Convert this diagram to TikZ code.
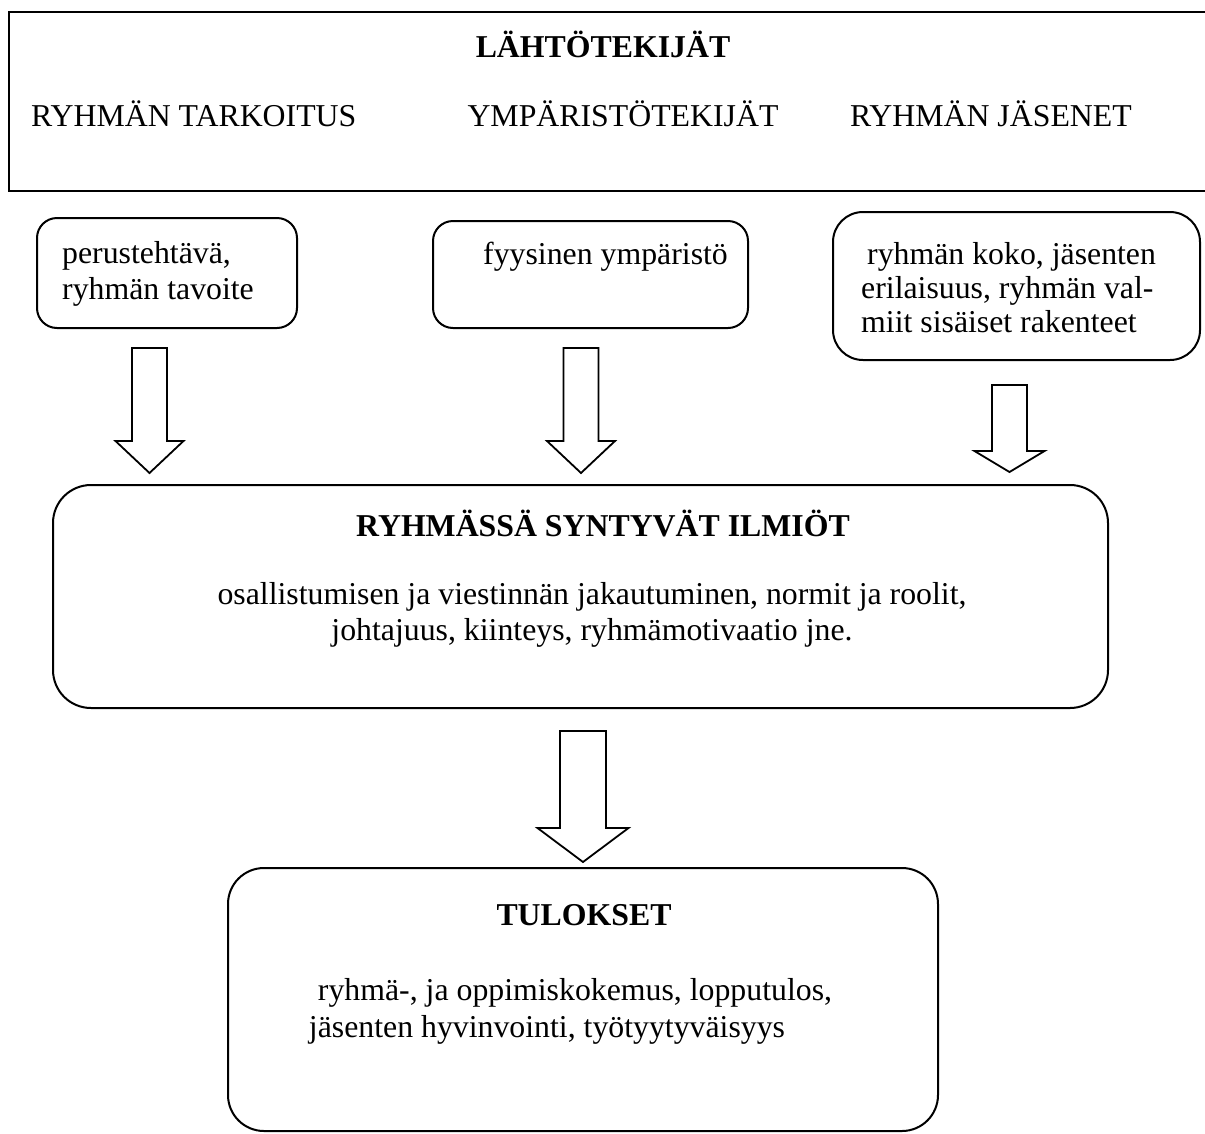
\documentclass[tikz,border=0pt]{standalone}
\usepackage{fontspec}
\setmainfont{Liberation Serif}
\newcommand\blockarr[6]{%
  \draw[blockarrow] (#1-#5,#2) -- (#1+#5,#2) -- (#1+#5,#3) -- (#1+#6,#3) -- (#1,#4) -- (#1-#6,#3) -- (#1-#5,#3) -- cycle;}
\begin{document}
\begin{tikzpicture}[x=1pt,y=-1pt,
  txt/.style={inner sep=0pt, font=\fontsize{31.8pt}{33pt}\selectfont},
  btxt/.style={txt, font=\fontsize{31.8pt}{33pt}\selectfont\bfseries},
  box/.style={draw, line width=2pt, minimum width=#1, inner sep=0pt},
  blockarrow/.style={draw, line width=1.8pt, line join=miter, fill=white}]
\useasboundingbox (0,0) rectangle (1205,1133);
% top open box
\draw[line width=2.4pt] (1210,12) -- (9,12) -- (9,191) -- (1210,191);
\node[btxt, anchor=base] (lt) at (603,57) {LÄHTÖTEKIJÄT};
\node[txt, anchor=base west] (rt) at (31,126) {RYHMÄN TARKOITUS};
\node[txt, anchor=base] (yt) at (623,126) {YMPÄRISTÖTEKIJÄT};
\node[txt, anchor=base east] (rj) at (1132,126) {RYHMÄN JÄSENET};
% small boxes
\node[box=260pt, minimum height=110pt, rounded corners=20pt] (b1) at (167,273) {};
\node[box=315pt, minimum height=107pt, rounded corners=20pt] (b2) at (590.5,274.5) {};
\node[box=367pt, minimum height=148pt, rounded corners=30pt] (b3) at (1016.5,286) {};
\node[txt, anchor=base west] (t1a) at (62,263) {perustehtävä,};
\node[txt, anchor=base west] (t1b) at (62,299) {ryhmän tavoite};
\node[txt, anchor=base west] (t2) at (483,264) {fyysinen ympäristö};
\node[txt, anchor=base west] (t3a) at (867,264) {ryhmän koko, jäsenten};
\node[txt, anchor=base west] (t3b) at (861,298) {erilaisuus, ryhmän val-};
\node[txt, anchor=base west] (t3c) at (861,332) {miit sisäiset rakenteet};
% arrows
\blockarr{149.5}{348}{441}{473}{17.5}{34}
\blockarr{581}{348}{441}{473}{17.5}{34}
\blockarr{1009.5}{385}{451}{472}{17.5}{35}
\blockarr{583}{731}{828}{862}{23}{45.5}
% middle box
\node[box=1055pt, minimum height=223pt, rounded corners=38pt] (mid) at (580.5,596.5) {};
\node[btxt, anchor=base] (mt) at (603,536) {RYHMÄSSÄ SYNTYVÄT ILMIÖT};
\node[txt, anchor=base] (m1) at (592,604) {osallistumisen ja viestinnän jakautuminen, normit ja roolit,};
\node[txt, anchor=base] (m2) at (592,640) {johtajuus, kiinteys, ryhmämotivaatio jne.};
% bottom box
\node[box=710pt, minimum height=263pt, rounded corners=36pt] (bot) at (583,999.5) {};
\node[btxt, anchor=base] (bt) at (584,925) {TULOKSET};
\node[txt, anchor=base] (r1) at (575,1000) {ryhmä-, ja oppimiskokemus, lopputulos,};
\node[txt, anchor=base] (r2) at (547,1037) {jäsenten hyvinvointi, työtyytyväisyys};
\end{tikzpicture}
\end{document}
